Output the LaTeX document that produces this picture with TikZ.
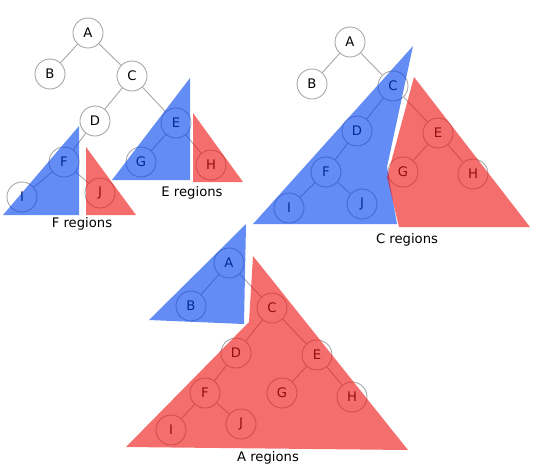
\documentclass[tikz,border=0pt]{standalone}
\usepackage{fontspec}
\setmainfont{DejaVu Sans}
\definecolor{regionblue}{RGB}{5,69,239}
\definecolor{regionred}{RGB}{239,21,21}

\begin{document}
\begin{tikzpicture}[x=0.02cm,y=-0.02cm]
            \tikzstyle{every node}+=[font=\fontsize{7.5}{9}\selectfont]
            \tikzstyle{key}=[draw=gray!70,line width=0.5pt,circle,minimum size=0.6cm,inner sep=0pt]
            \tikzstyle{link}=[gray!70,line width=0.5pt]
            \tikzstyle{blueregion}=[fill=regionblue,fill opacity=0.62]
            \tikzstyle{redregion}=[fill=regionred,fill opacity=0.62]
            \useasboundingbox (0,0) rectangle (540,471);
            % tree for the F and E regions
            \node [key] (t1A) at (88,33) {A};
            \node [key] (t1B) at (50,74) {B};
            \node [key] (t1C) at (132,76) {C};
            \node [key] (t1D) at (95,121) {D};
            \node [key] (t1E) at (176,123) {E};
            \node [key] (t1F) at (64,162) {F};
            \node [key] (t1G) at (141,162) {G};
            \node [key] (t1H) at (211,165) {H};
            \node [key] (t1I) at (22,197) {I};
            \node [key] (t1J) at (100,193) {J};
            \draw [link] (t1A) -- (t1B);
            \draw [link] (t1A) -- (t1C);
            \draw [link] (t1C) -- (t1D);
            \draw [link] (t1C) -- (t1E);
            \draw [link] (t1D) -- (t1F);
            \draw [link] (t1E) -- (t1G);
            \draw [link] (t1E) -- (t1H);
            \draw [link] (t1F) -- (t1I);
            \draw [link] (t1F) -- (t1J);
            \fill [blueregion] (112,180) -- (190,78) -- (190,180) -- cycle;
            \fill [redregion] (193,113) -- (193,182) -- (243,182) -- cycle;
            \fill [blueregion] (3,215) -- (79,126) -- (79,215) -- cycle;
            \fill [redregion] (86,147) -- (86,215) -- (136,215) -- cycle;
            \node (t1elabel) at (192,193) {E regions};
            \node (t1flabel) at (82,224) {F regions};
            % tree for the C regions
            \node [key] (t2A) at (350,42) {A};
            \node [key] (t2B) at (312,84) {B};
            \node [key] (t2C) at (393,86) {C};
            \node [key] (t2D) at (357,131) {D};
            \node [key] (t2E) at (438,133) {E};
            \node [key] (t2F) at (326,172) {F};
            \node [key] (t2G) at (403,172) {G};
            \node [key] (t2H) at (473,174) {H};
            \node [key] (t2I) at (289,208) {I};
            \node [key] (t2J) at (362,204) {J};
            \draw [link] (t2A) -- (t2B);
            \draw [link] (t2A) -- (t2C);
            \draw [link] (t2C) -- (t2D);
            \draw [link] (t2C) -- (t2E);
            \draw [link] (t2D) -- (t2F);
            \draw [link] (t2E) -- (t2G);
            \draw [link] (t2E) -- (t2H);
            \draw [link] (t2F) -- (t2I);
            \draw [link] (t2F) -- (t2J);
            \fill [blueregion] (253,224) -- (413,46) -- (387,167) -- (397,224) -- cycle;
            \fill [redregion] (414,77) -- (387,177) -- (399,227) -- (530,227) -- cycle;
            \node (t2clabel) at (407,240) {C regions};
            % tree for the A regions
            \node [key] (t3A) at (229,263) {A};
            \node [key] (t3B) at (191,306) {B};
            \node [key] (t3C) at (272,308) {C};
            \node [key] (t3D) at (236,353) {D};
            \node [key] (t3E) at (317,355) {E};
            \node [key] (t3F) at (205,393) {F};
            \node [key] (t3G) at (282,393) {G};
            \node [key] (t3H) at (352,397) {H};
            \node [key] (t3I) at (171,430) {I};
            \node [key] (t3J) at (241,424) {J};
            \draw [link] (t3A) -- (t3B);
            \draw [link] (t3A) -- (t3C);
            \draw [link] (t3C) -- (t3D);
            \draw [link] (t3C) -- (t3E);
            \draw [link] (t3D) -- (t3F);
            \draw [link] (t3E) -- (t3G);
            \draw [link] (t3E) -- (t3H);
            \draw [link] (t3F) -- (t3I);
            \draw [link] (t3F) -- (t3J);
            \fill [blueregion] (149,320) -- (246,224) -- (244,324) -- cycle;
            \fill [redregion] (253,256) -- (249,322) -- (126,447) -- (408,450) -- cycle;
            \node (t3alabel) at (268,458) {A regions};
        \end{tikzpicture}
\end{document}
